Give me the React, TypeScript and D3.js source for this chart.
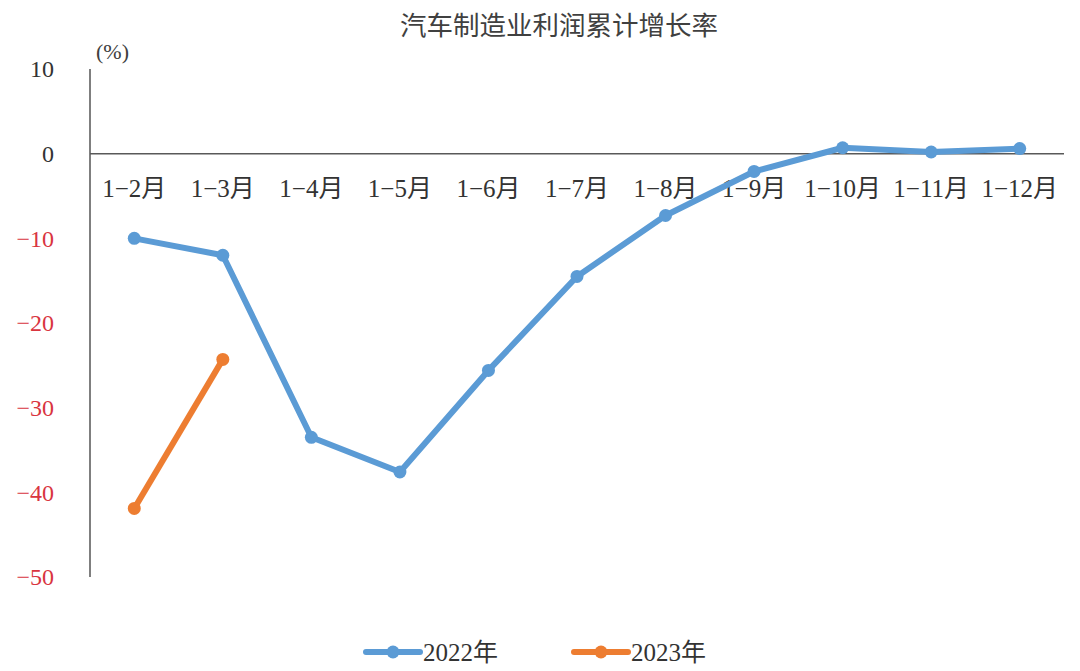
import React from 'react';
import * as d3 from 'd3';

const categories = ['1-2月', '1-3月', '1-4月', '1-5月', '1-6月', '1-7月', '1-8月', '1-9月', '1-10月', '1-11月', '1-12月'];
const values2022 = [-10.0, -12.0, -33.5, -37.6, -25.6, -14.5, -7.3, -2.1, 0.7, 0.2, 0.6];
const values2023 = [-41.9, -24.3];
const yTicks = [10, 0, -10, -20, -30, -40, -50];

const width = 1080;
const height = 671;
const blue = '#5B9BD5';
const orange = '#ED7D31';
const serif = '"Liberation Serif", "Noto Sans CJK SC", serif';

const App: React.FC = () => {
  const x = d3.scaleBand<string>().domain(categories).range([90, 1064]);
  const y = d3.scaleLinear().domain([-50, 10]).range([577, 69]);
  const cx = (c: string) => (x(c) ?? 0) + x.bandwidth() / 2;

  const line = d3.line<[string, number]>()
    .x((d) => cx(d[0]))
    .y((d) => y(d[1]));

  const s2022: [string, number][] = values2022.map((v, i) => [categories[i], v]);
  const s2023: [string, number][] = values2023.map((v, i) => [categories[i], v]);

  const series = [
    { name: '2022年', data: s2022, color: blue },
    { name: '2023年', data: s2023, color: orange },
  ];

  return (
    <svg width={width} height={height} style={{ display: 'block', position: 'absolute', left: 0, top: 0, background: '#fff' }}>
      {/* Title */}
      <text x={559} y={35} textAnchor="middle" fontSize={26.5} fill="#404040" fontFamily='"Noto Sans CJK SC", sans-serif'>
        汽车制造业利润累计增长率
      </text>
      <text x={96} y={59} fontSize={22} fill="#404040" fontFamily={serif}>(%)</text>

      {/* Y axis */}
      <line x1={90} x2={90} y1={y(10)} y2={y(-50)} stroke="#7f7f7f" strokeWidth={2} />
      {yTicks.map((t) => (
        <text key={t} x={54} y={y(t)} dy="0.35em" textAnchor="end" fontSize={24}
          fill={t < 0 ? '#D9353F' : '#333'} fontFamily={serif}>
          {t < 0 ? `−${Math.abs(t)}` : t}
        </text>
      ))}

      {/* Zero line */}
      <line x1={90} x2={1064} y1={y(0)} y2={y(0)} stroke="#595959" strokeWidth={1.5} />

      {/* Category labels */}
      {categories.map((c) => (
        <text key={c} x={cx(c)} y={197} textAnchor="middle" fontSize={25} fill="#333" fontFamily={serif}>
          {c.replace('-', '−')}
        </text>
      ))}

      {/* Lines */}
      {series.map((s) => (
        <g key={s.name}>
          <path d={line(s.data) ?? ''} fill="none" stroke={s.color} strokeWidth={6} strokeLinejoin="round" />
          {s.data.map((d) => (
            <circle key={d[0]} cx={cx(d[0])} cy={y(d[1])} r={6.5} fill={s.color} />
          ))}
        </g>
      ))}

      {/* Legend */}
      {series.map((s, i) => {
        const lx = 366 + i * 208;
        return (
          <g key={s.name}>
            <line x1={lx} x2={lx + 54} y1={652} y2={652} stroke={s.color} strokeWidth={6} strokeLinecap="round" />
            <circle cx={lx + 27} cy={652} r={6.5} fill={s.color} />
            <text x={lx + 57} y={661} fontSize={25} fill="#333" fontFamily={serif}>{s.name}</text>
          </g>
        );
      })}
    </svg>
  );
};

export default App;
